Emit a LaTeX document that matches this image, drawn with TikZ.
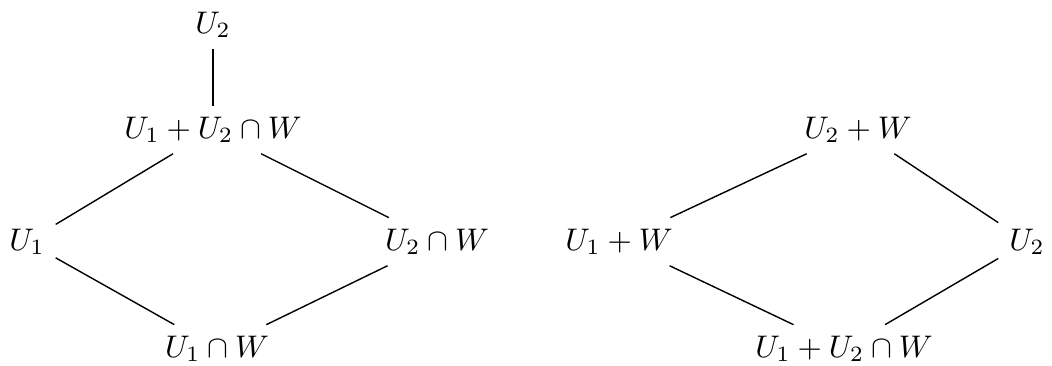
\documentclass[tikz,border=0pt]{standalone}
\begin{document}
\begin{tikzpicture}[x=0.32pt,y=-0.32pt,
  lbl/.style={anchor=base,inner sep=3.33pt},
  edge/.style={draw=black,line width=0.45pt}]
\useasboundingbox (0,0) rectangle (1052,365);
% left lattice
\node[lbl] (a2) at (213,33) {$U_2$};
\node[lbl] (a12) at (213,138) {$U_1+U_2\cap W$};
\node[lbl] (a1) at (27,250) {$U_1$};
\node[lbl] (a2w) at (437,250) {$U_2\cap W$};
\node[lbl] (a1w) at (217,357) {$U_1\cap W$};
\draw[edge] (a2) -- (a2 |- a12.north);
\draw[edge] (a1) -- (a12);
\draw[edge] (a2w) -- (a12);
\draw[edge] (a1) -- (a1w);
\draw[edge] (a2w) -- (a1w);
% right lattice
\node[lbl] (b2w) at (858,138) {$U_2+W$};
\node[lbl] (b1w) at (619,250) {$U_1+W$};
\node[lbl] (b2) at (1027,250) {$U_2$};
\node[lbl] (b12) at (844,357) {$U_1+U_2\cap W$};
\draw[edge] (b1w) -- (b2w);
\draw[edge] (b2) -- (b2w);
\draw[edge] (b1w) -- (b12);
\draw[edge] (b2) -- (b12);
\end{tikzpicture}
\end{document}
